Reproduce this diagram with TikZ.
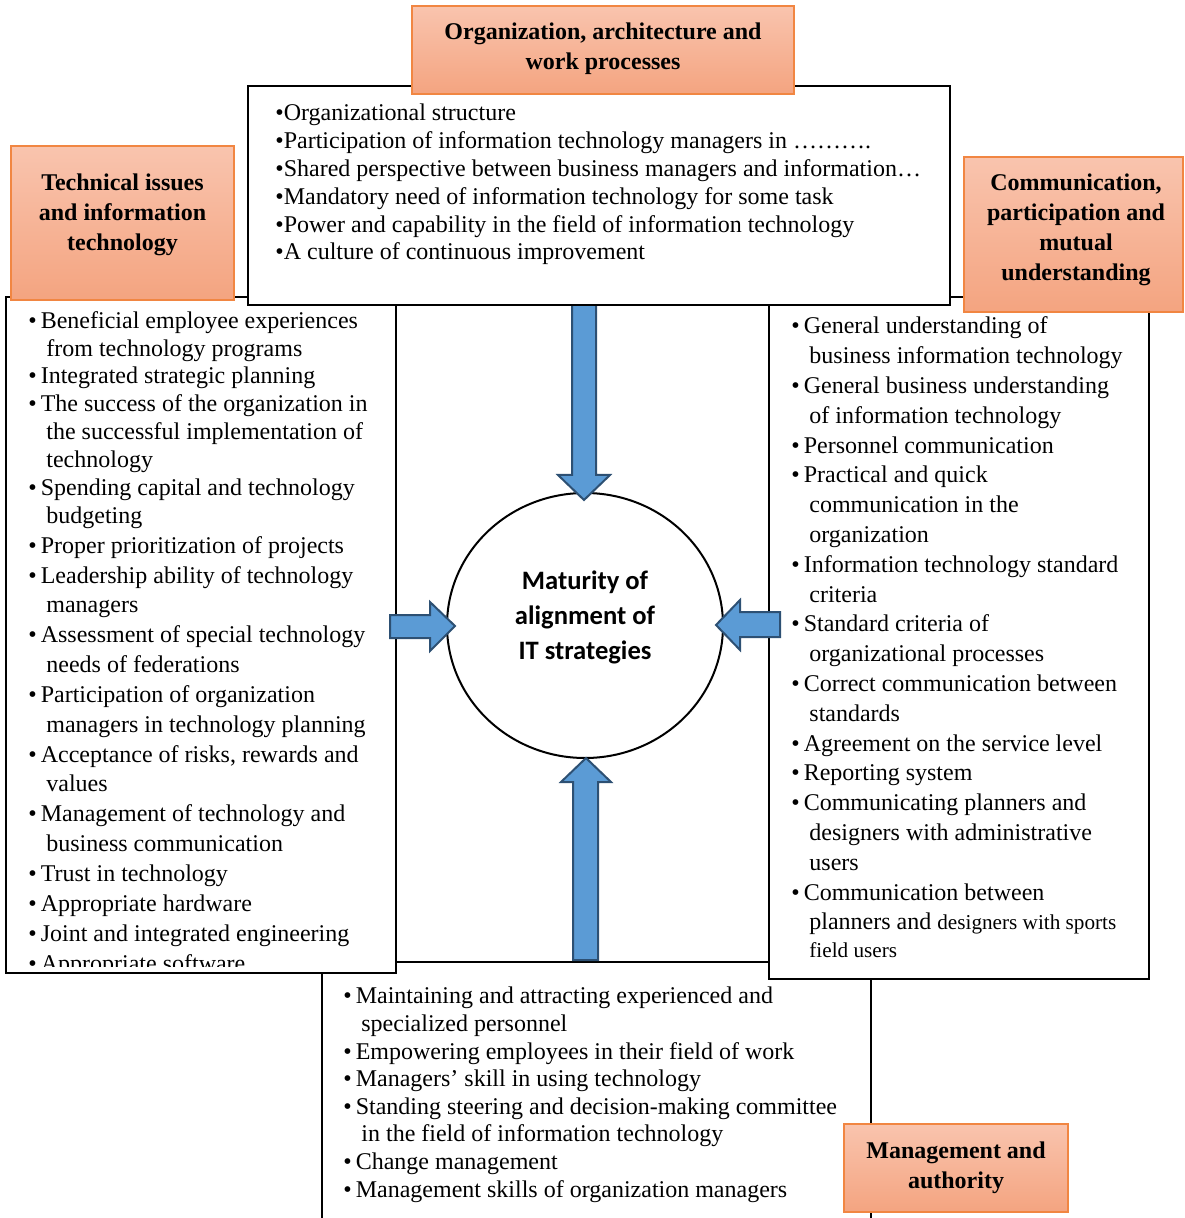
\documentclass[tikz,border=0pt]{standalone}
\usepackage{fontspec}
\setmainfont{Liberation Serif}
\newfontfamily\calibri{Carlito}
\usetikzlibrary{shapes.geometric}
\definecolor{hdrtop}{RGB}{249,196,174}
\definecolor{hdrbot}{RGB}{244,164,128}
\definecolor{hdrline}{RGB}{241,134,66}
\definecolor{arrfill}{RGB}{91,155,213}
\definecolor{arrline}{RGB}{45,80,115}
\newcommand{\bul}{•\hspace{2pt}}
\newcommand{\cnt}{\hspace*{9pt}}
\begin{document}
\begin{tikzpicture}[x=0.5pt,y=-0.5pt,
  frame/.style={draw=black,line width=1.3pt,fill=white},
  hdrbox/.style={draw=hdrline,line width=0.9pt,top color=hdrtop,bottom color=hdrbot},
  hdrtext/.style={inner sep=0,align=center,font=\bfseries\fontsize{12}{15}\selectfont},
  listtext/.style={inner sep=0,align=left,anchor=base west},
  blockarrow/.style={fill=arrfill,draw=arrline,line width=1pt,line join=miter}]
\useasboundingbox (0,0) rectangle (1184,1218);
% bottom box (anchor = baseline of last line)
\draw[frame] (322,962) rectangle (871,1240);
\node[listtext,font=\fontsize{12}{13.8}\selectfont] (btext) at (343,1197) {%
\bul Maintaining and attracting experienced and\\
\cnt specialized personnel\\
\bul Empowering employees in their field of work\\
\bul Managers' skill in using technology\\
\bul Standing steering and decision-making committee\\
\cnt in the field of information technology\\
\bul Change management\\
\bul Management skills of organization managers};
% left box
\draw[frame] (6,297) rectangle (396,973);
\begin{scope}
\clip (8,299) rectangle (394,966);
\node[listtext,font=\fontsize{12}{14.92}\selectfont] (ltext) at (28,971) {%
\bul Beneficial employee experiences\\[-0.97pt]
\cnt from technology programs\\[-0.97pt]
\bul Integrated strategic planning\\[-0.97pt]
\bul The success of the organization in\\[-0.97pt]
\cnt the successful implementation of\\[-0.97pt]
\cnt technology\\[-0.97pt]
\bul Spending capital and technology\\[-0.97pt]
\cnt budgeting\\
\bul Proper prioritization of projects\\
\bul Leadership ability of technology\\
\cnt managers\\
\bul Assessment of special technology\\
\cnt needs of federations\\
\bul Participation of organization\\
\cnt managers in technology planning\\
\bul Acceptance of risks, rewards and\\
\cnt values\\
\bul Management of technology and\\
\cnt business communication\\
\bul Trust in technology\\
\bul Appropriate hardware\\
\bul Joint and integrated engineering\\
\bul Appropriate software};
\end{scope}
% right box
\draw[frame] (769,297) rectangle (1149,979);
\node[listtext,font=\fontsize{12}{14.9}\selectfont] (rtext) at (791,957) {%
\bul General understanding of\\
\cnt business information technology\\
\bul General business understanding\\
\cnt of information technology\\
\bul Personnel communication\\
\bul Practical and quick\\
\cnt communication in the\\
\cnt organization\\
\bul Information technology standard\\
\cnt criteria\\
\bul Standard criteria of\\
\cnt organizational processes\\
\bul Correct communication between\\
\cnt standards\\
\bul Agreement on the service level\\
\bul Reporting system\\
\bul Communicating planners and\\
\cnt designers with administrative\\
\cnt users\\
\bul Communication between\\[-0.4pt]
\cnt planners and {\fontsize{10.6}{12}\selectfont designers with sports}\\[-0.9pt]
\cnt {\fontsize{10.6}{12}\selectfont field users}};
% central circle
\node[draw,ellipse,line width=1pt,minimum width=138pt,minimum height=132.5pt,inner sep=0,fill=white] (core) at (585,625.5) {};
\node[inner sep=0,align=center,font=\calibri\bfseries\fontsize{13.3}{17.5}\selectfont] (coretext) at (585,617) {Maturity of\\alignment of\\IT strategies};
% block arrows
\draw[blockarrow] (572,305) -- (596,305) -- (596,475) -- (610,475) -- (584,500) -- (558,475) -- (572,475) -- cycle;
\draw[blockarrow] (573,960) -- (598,960) -- (598,782) -- (611,782) -- (586,758) -- (561,782) -- (573,782) -- cycle;
\draw[blockarrow] (390,615) -- (430,615) -- (430,602) -- (455,626) -- (430,651) -- (430,638) -- (390,638) -- cycle;
\draw[blockarrow] (780,612) -- (740,612) -- (740,600) -- (716,625) -- (740,650) -- (740,637) -- (780,637) -- cycle;
% top box
\draw[frame] (248,86) rectangle (950,305);
\node[listtext,font=\fontsize{12}{13.9}\selectfont] (ttext) at (275,260) {%
•Organizational structure\\
•Participation of information technology managers in ……….\\
•Shared perspective between business managers and information…\\
•Mandatory need of information technology for some task\\
•Power and capability in the field of information technology\\
•A culture of continuous improvement};
% headers
\draw[hdrbox] (412,6) rectangle (794,94);
\node[hdrtext] (htop) at (603,49) {Organization, architecture and\\work processes};
\draw[hdrbox] (11,146) rectangle (234,300);
\node[hdrtext] (hleft) at (122.5,215) {Technical issues\\and information\\technology};
\draw[hdrbox] (964,157) rectangle (1183,312);
\node[hdrtext] (hright) at (1076,230) {Communication,\\participation and\\mutual\\understanding};
\draw[hdrbox] (844,1124) rectangle (1068,1212);
\node[hdrtext] (hbottom) at (956,1168) {Management and\\authority};
\end{tikzpicture}
\end{document}
